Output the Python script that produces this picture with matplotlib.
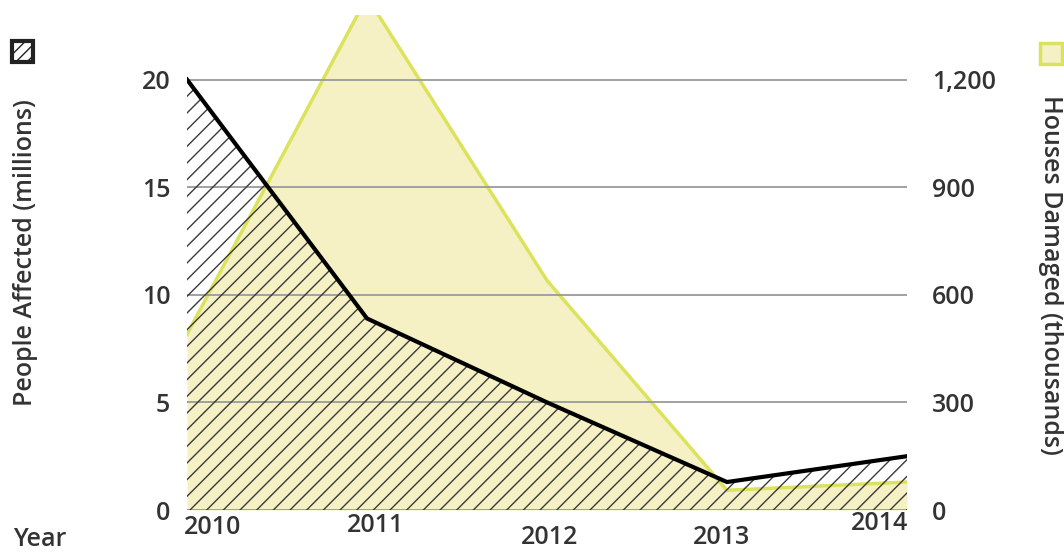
import matplotlib
matplotlib.use("Agg")
import matplotlib.pyplot as plt
from matplotlib.patches import Rectangle

years = [2010, 2011, 2012, 2013, 2014]
people_affected = [20.0, 8.9, 5.0, 1.3, 2.5]        # millions
houses_damaged = [490, 1430, 640, 55, 78]          # thousands
left_ticks = [0, 5, 10, 15, 20]
right_ticks = [0, 300, 600, 900, 1200]
year_labels = ["2010", "2011", "2012", "2013", "2014"]

plt.rcParams['font.family'] = ['Open Sans', 'DejaVu Sans']
plt.rcParams['font.weight'] = 'semibold'
plt.rcParams['hatch.linewidth'] = 1.0
txt = '#333333'
FS = 18

fig = plt.figure(figsize=(10.64, 5.52), dpi=100)
ax = fig.add_axes([187/1064, 1-510/552, (907-187)/1064, (510-15)/552])
ax2 = ax.twinx()

ymax = 23.0
ax.set_ylim(0, ymax)
ax2.set_ylim(0, ymax*60)
ax.set_xlim(years[0], years[-1])

ax2.set_zorder(1)
ax.set_zorder(2)
ax.patch.set_visible(False)
ax2.fill_between(years, houses_damaged, 0, color='#f6f1c4', lw=0, zorder=1)
ax2.plot(years, houses_damaged, color='#dbe35c', lw=2.5, zorder=2, solid_joinstyle='miter')

for t in left_ticks:
    ax.axhline(t, color='#9a9a9a', lw=1.3, zorder=1)

ax.fill_between(years, people_affected, 0, facecolor='none', edgecolor='#3a3a3a',
                hatch='//', lw=0, zorder=2)
ax.plot(years, people_affected, color='black', lw=3, zorder=3, solid_joinstyle='miter')

for a in (ax, ax2):
    for s in a.spines.values():
        s.set_visible(False)
    a.tick_params(length=0, labelsize=FS, colors=txt)

ax.set_yticks(left_ticks)
ax.set_yticklabels([str(t) for t in left_ticks], fontweight='semibold')
ax.tick_params(axis='y', pad=12)
ax2.set_yticks(right_ticks)
ax2.set_yticklabels([f"{t:,}" for t in right_ticks], fontweight='semibold')
ax2.tick_params(axis='y', pad=18)

ax.set_xticks([])
x_offsets = [26, 8, 3, -5, -27]   # pixel offsets of staggered year labels
y_offsets = [-18, -16, -28, -28, -14]
for yr, lab, dx, dy in zip(years, year_labels, x_offsets, y_offsets):
    ax.annotate(lab, xy=(yr, 0), xytext=(dx*0.72, dy*0.72), textcoords='offset points',
                ha='center', va='center', fontsize=FS, color=txt, fontweight='semibold',
                annotation_clip=False)

fig.text(26/1064, 1-253/552, 'People Affected (millions)', rotation=90,
         ha='center', va='center', fontsize=FS, color=txt, fontweight='semibold')
fig.text(1050/1064, 1-275/552, 'Houses Damaged (thousands)', rotation=-90,
         ha='center', va='center', fontsize=FS, color=txt, fontweight='semibold')
fig.text(13/1064, 1-540/552, 'Year', ha='left', va='center', fontsize=FS, color=txt,
         fontweight='semibold')

W, H = 1064, 552
fig.patches.append(Rectangle((12/W, 1-62/H), 21/W, 21/H, transform=fig.transFigure,
                             facecolor='white', edgecolor='#222222', lw=3, hatch='///'))
fig.patches.append(Rectangle((1040/W, 1-64/H), 22/W, 21/H, transform=fig.transFigure,
                             facecolor='#f6f1c4', edgecolor='#dbe35c', lw=2.5))

fig.savefig('out.png', dpi=100)
